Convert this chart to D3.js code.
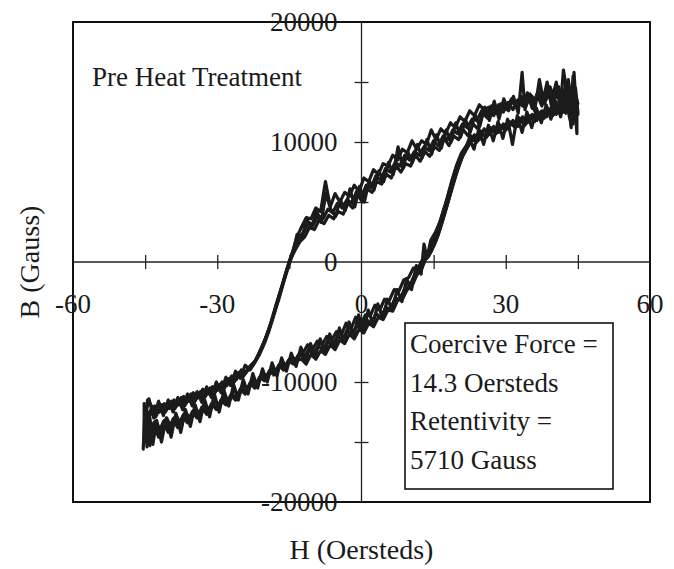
<!DOCTYPE html>
<html>
<head>
<meta charset="utf-8">
<script src="https://cdn.jsdelivr.net/npm/d3@7"></script>
<style>
  body { margin: 0; background: #fff; }
</style>
</head>
<body>
<div id="chart"></div>
<script>
// H (Oersteds), B (Gauss); four overlapping cycles
var cycleA = [
  [45,13200],[44,14800],[43.5,12000],[43,14200],[42,13000],[41,14600],[40,13400],[39,14100],[38,13200],[37,13900],
  [36,13300],[35,13700],[34,12900],[33,13600],[32,13100],[31,13400],[30,12800],[29,13200],[28,12600],[27,13000],
  [26,12300],[25,12600],[24,11800],[23,11900],[22,11200],[21,11500],[20,10700],[19,11000],[18,10200],[17,10500],
  [16,9700],[15,10100],[14,9300],[13,9600],[12,8900],[11,9200],[10,8500],[9,8900],[8,8000],[7,8300],
  [6,7500],[5,7800],[4,6800],[3,7200],[2,6200],[1,6400],[0,5400],[-1,5900],[-2,4900],[-3,5200],
  [-4,4500],[-5,4900],[-6,4100],[-7,4400],[-8,3600],[-9,3900],[-10,3100],[-11,3300],[-12,2500],[-13,2000],
  [-14,1200],[-15,100],[-16,-1300],[-17,-2700],[-18,-4000],[-19,-5300],[-20,-6400],[-21,-7300],[-22,-8200],[-23,-8600],
  [-24,-9200],[-25,-9000],[-26,-9800],[-27,-9500],[-28,-10300],[-29,-10000],[-30,-10700],[-31,-10400],[-32,-11000],[-33,-10600],
  [-34,-11300],[-35,-10900],[-36,-11600],[-37,-11200],[-38,-11900],[-39,-11500],[-40,-12200],[-41,-11800],[-42,-12500],[-43,-12000],
  [-44,-12800],[-45,-12200],
  [-45,-14500],[-44.5,-12500],[-44,-14200],[-43,-13300],[-42,-14000],[-41,-13200],[-40,-13800],[-39,-13000],[-38,-13500],[-37,-12700],
  [-36,-13200],[-35,-12400],[-34,-12900],[-33,-12100],[-32,-12500],[-31,-11800],[-30,-12200],[-29,-11400],[-28,-11800],[-27,-11000],
  [-26,-11300],[-25,-10500],[-24,-10800],[-23,-10000],[-22,-10300],[-21,-9500],[-20,-9800],[-19,-9000],[-18,-9300],[-17,-8500],
  [-16,-8800],[-15,-8100],[-14,-8400],[-13,-7700],[-12,-8000],[-11,-7300],[-10,-7700],[-9,-7000],[-8,-7300],[-7,-6600],
  [-6,-6900],[-5,-6200],[-4,-6500],[-3,-5700],[-2,-6000],[-1,-5300],[0,-5600],[1,-4800],[2,-5100],[3,-4300],
  [4,-4600],[5,-3800],[6,-3900],[7,-3000],[8,-3100],[9,-2200],[10,-2000],[11,-1100],[12,-700],[13,100],
  [14,500],[15,1300],[16,2300],[17,3600],[18,5000],[19,6400],[20,7700],[21,8800],[22,9500],[23,10200],
  [24,10000],[25,10700],[26,10400],[27,11000],[28,10700],[29,11300],[30,11000],[31,11600],[32,11200],[33,11900],
  [34,11400],[35,12100],[36,11700],[37,12400],[38,12000],[39,12700],[40,12300],[41,13000],[42,12500],[43,13400],
  [44,12800],[45,13200]
];

var cycleB = [
  [44.5,13500],[44,15500],[43.5,12500],[42.5,14800],[41.5,12900],[40.5,15000],[39.5,13300],[38.5,14500],[37.5,13000],[36.5,14000],
  [35.5,12800],[34.5,14100],[33.5,13000],[32.5,13500],[31.5,12700],[30.5,13300],[29.5,12500],[28.5,13100],[27.5,12200],[26.5,12900],
  [25.5,12700],[24.5,13100],[23.5,12200],[22.5,12600],[21.5,11700],[20.5,12100],[19.5,11200],[18.5,11600],[17.5,10700],[16.5,11100],
  [15.5,10200],[14.5,11000],[13.5,9800],[12.5,10100],[11.5,9400],[10.5,10100],[9.5,9100],[8.5,9400],[7.5,8500],[6.5,8900],
  [5.5,8000],[4.5,8200],[3.5,7300],[2.5,7700],[1.5,6700],[0.5,7000],[-0.5,5900],[-1.5,6400],[-2.5,5500],[-3.5,5800],
  [-4.5,5000],[-5.5,5700],[-6.5,4600],[-7.5,6700],[-8.5,4200],[-9.5,4500],[-10.5,3600],[-11.5,3700],[-12.5,2900],[-13.5,2000],
  [-14.5,600],[-15.5,-600],[-16.5,-2000],[-17.5,-3300],[-18.5,-4700],[-19.5,-5900],[-20.5,-6900],[-21.5,-7800],[-22.5,-8500],[-23.5,-8800],
  [-24.5,-9500],[-25.5,-9200],[-26.5,-10000],[-27.5,-9700],[-28.5,-10500],[-29.5,-10200],[-30.5,-10900],[-31.5,-10500],[-32.5,-11200],[-33.5,-10800],
  [-34.5,-11500],[-35.5,-11000],[-36.5,-11800],[-37.5,-11300],[-38.5,-12000],[-39.5,-11600],[-40.5,-12300],[-41.5,-11900],[-42.5,-12600],[-43.5,-12100],
  [-44.5,-11500],[-45,-13500],
  [-45,-15000],[-44.5,-13000],[-43.5,-14800],[-42.5,-13500],[-41.5,-14300],[-40.5,-13000],[-39.5,-13900],[-38.5,-12800],[-37.5,-13600],[-36.5,-12600],
  [-35.5,-13100],[-34.5,-12200],[-33.5,-12800],[-32.5,-11900],[-31.5,-12400],[-30.5,-11600],[-29.5,-12000],[-28.5,-11200],[-27.5,-11600],[-26.5,-10700],
  [-25.5,-11100],[-24.5,-10300],[-23.5,-10600],[-22.5,-9800],[-21.5,-10100],[-20.5,-9300],[-19.5,-9600],[-18.5,-8800],[-17.5,-9100],[-16.5,-8300],
  [-15.5,-8700],[-14.5,-7900],[-13.5,-8200],[-12.5,-8100],[-11.5,-8500],[-10.5,-7700],[-9.5,-8100],[-8.5,-7400],[-7.5,-7700],[-6.5,-6900],
  [-5.5,-7300],[-4.5,-6500],[-3.5,-6800],[-2.5,-6000],[-1.5,-6400],[-0.5,-5600],[0.5,-5900],[1.5,-5100],[2.5,-5400],[3.5,-4600],
  [4.5,-4800],[5.5,-4000],[6.5,-4100],[7.5,-3200],[8.5,-3100],[9.5,-2300],[10.5,-2000],[11.5,-1100],[12.5,-600],[13.5,400],
  [14.5,900],[15.5,1800],[16.5,3000],[17.5,4300],[18.5,5700],[19.5,7100],[20.5,8300],[21.5,9300],[22.5,9900],[23.5,10600],
  [24.5,10200],[25.5,11100],[26.5,10600],[27.5,11300],[28.5,10800],[29.5,11500],[30.5,11100],[31.5,11800],[32.5,11300],[33.5,12100],
  [34.5,11600],[35.5,12300],[36.5,11800],[37.5,12600],[38.5,12100],[39.5,12900],[40.5,12300],[41.5,13100],[42.5,12400],[43.5,13600],
  [44,11500],[44.5,13300]
];

var cycleC = [
  [45,12500],[44.5,14500],[43.8,13000],[43,15200],[42.2,13200],[41.2,14300],[40.2,13600],[39.2,14600],[38.2,13400],[37.2,14200],
  [36.2,13500],[35.2,13900],[34.2,13200],[33.2,13800],[32.2,12900],[31.2,13600],[30.2,12700],[29.2,13000],[28.2,12400],[27.2,12800],
  [26.2,12000],[25.2,12400],[24.2,11100],[23.2,11500],[22.2,10500],[21.2,11000],[20.2,10200],[19.2,10500],[18.2,9700],[17.2,10300],
  [16.2,9300],[15.2,9600],[14.2,8800],[13.2,9200],[12.2,8400],[11.2,8900],[10.2,8000],[9.2,8200],[8.2,7500],[7.2,8000],
  [6.2,7000],[5.2,7300],[4.2,6500],[3.2,6700],[2.2,5800],[1.2,6100],[0.2,5000],[-0.8,5600],[-1.8,4500],[-2.8,4900],
  [-3.8,4000],[-4.8,4200],[-5.8,3600],[-6.8,3900],[-7.8,3200],[-8.8,3500],[-9.8,2700],[-10.8,2900],[-11.8,2100],[-12.8,1700],
  [-13.8,1000],[-14.8,200],[-15.8,-1000],[-16.8,-2300],[-17.8,-3600],[-18.8,-5000],[-19.8,-6200],[-20.8,-7200],[-21.8,-8000],[-22.8,-8700],
  [-23.8,-9100],[-24.8,-9600],[-25.8,-9400],[-26.8,-10200],[-27.8,-9900],[-28.8,-10600],[-29.8,-10300],[-30.8,-11100],[-31.8,-10700],[-32.8,-11400],
  [-33.8,-11000],[-34.8,-11700],[-35.8,-11200],[-36.8,-12000],[-37.8,-11500],[-38.8,-12200],[-39.8,-11700],[-40.8,-12500],[-41.8,-12000],[-42.8,-12900],
  [-43.8,-12300],[-44.8,-13200],[-45.2,-11800],
  [-45.2,-14800],[-44.6,-12800],[-44,-15300],[-43.2,-13400],[-42.2,-14600],[-41.2,-13300],[-40.2,-14200],[-39.2,-13100],[-38.2,-13800],[-37.2,-12900],
  [-36.2,-13400],[-35.2,-12500],[-34.2,-13000],[-33.2,-12100],[-32.2,-12700],[-31.2,-11800],[-30.2,-12300],[-29.2,-11500],[-28.2,-11900],[-27.2,-11100],
  [-26.2,-11500],[-25.2,-10600],[-24.2,-11000],[-23.2,-10100],[-22.2,-10500],[-21.2,-9600],[-20.2,-9900],[-19.2,-9100],[-18.2,-9400],[-17.2,-8600],
  [-16.2,-9000],[-15.2,-8200],[-14.2,-8500],[-13.2,-7800],[-12.2,-7600],[-11.2,-6900],[-10.2,-7300],[-9.2,-6600],[-8.2,-6900],[-7.2,-6200],
  [-6.2,-6500],[-5.2,-5800],[-4.2,-6100],[-3.2,-5100],[-2.2,-5600],[-1.2,-4600],[-0.2,-5300],[0.8,-4400],[1.8,-4500],[2.8,-3600],
  [3.8,-4000],[4.8,-3100],[5.8,-3200],[6.8,-2300],[7.8,-2400],[8.8,-1500],[9.8,-1300],[10.8,-500],[11.8,-500],[12.8,300],
  [13.8,700],[14.8,1600],[15.8,2700],[16.8,4000],[17.8,5300],[18.8,6800],[19.8,8100],[20.8,9100],[21.8,9700],[22.8,10500],
  [23.8,10100],[24.8,10900],[25.8,10500],[26.8,11200],[27.8,10900],[28.8,11400],[29.8,11000],[30.8,11700],[31.8,11300],[32.8,12000],
  [33.8,11500],[34.8,12200],[35.8,11900],[36.8,12500],[37.8,12000],[38.8,12800],[39.8,12200],[40.8,13000],[41.8,12600],[42.8,13400],
  [43.8,12700],[44.6,13500],[45,12300]
];

var cycleD = [
  [44.8,12000],[44.2,15800],[43.6,11200],[42.8,14000],[42,16000],[41.4,13000],[40.4,14500],[39.6,12800],[38.6,15000],[37.8,13500],
  [37,15200],[36,12600],[35,14000],[34,12700],[33.4,15800],[32.6,12400],[31.6,13800],[30.6,12600],[29.6,13600],[28.6,11900],
  [27.6,13400],[26.6,11800],[25.6,12900],[24.6,11300],[23.6,12300],[22.6,10800],[21.6,11900],[20.6,10400],[19.6,11600],[18.6,10000],
  [17.6,11000],[16.6,9500],[15.6,10600],[14.6,9000],[13.6,10200],[12.6,8700],[11.6,9800],[10.6,8300],[9.6,9200],[8.6,7800],
  [7.6,9600],[6.6,7300],[5.6,8300],[4.6,6700],[3.6,7600],[2.6,6000],[1.6,6800],[0.6,5000],[-0.4,6300],[-1.4,4600],
  [-2.4,6100],[-3.4,4300],[-4.4,5200],[-5.4,3800],[-6.4,4400],[-7.4,5700],[-8.4,3300],[-9.4,4300],[-10.4,2800],[-11.4,3600],
  [-12.4,2000],[-13.4,2300],[-14.2,800],[-15.2,-400],[-16.2,-1700],[-17.2,-3100],[-18.2,-4400],[-19.2,-5700],[-20.2,-6800],[-21.2,-7700],
  [-22.2,-8400],[-23.2,-9000],[-24.2,-8600],[-25.2,-9700],[-26.2,-9100],[-27.2,-10300],[-28.2,-9600],[-29.2,-10900],[-30.2,-10000],[-31.2,-11300],
  [-32.2,-10400],[-33.2,-11700],[-34.2,-10800],[-35.2,-12000],[-36.2,-11000],[-37.2,-12300],[-38.2,-11300],[-39.2,-12500],[-40.2,-11500],[-41.2,-12800],
  [-42.2,-11600],[-43.2,-13000],[-44.2,-11400],[-45,-12800],
  [-45.4,-15600],[-45,-12000],[-44.6,-15400],[-44,-13000],[-43.4,-15200],[-42.6,-13200],[-41.6,-15000],[-40.6,-13000],[-39.6,-14600],[-38.6,-12600],
  [-37.6,-14200],[-36.6,-12300],[-35.6,-13700],[-34.6,-11900],[-33.6,-13300],[-32.6,-11500],[-31.6,-12900],[-30.6,-11000],[-29.6,-12500],[-28.6,-10700],
  [-27.6,-12000],[-26.6,-10200],[-25.6,-11500],[-24.6,-9800],[-23.6,-11000],[-22.6,-9300],[-21.6,-10500],[-20.6,-8900],[-19.6,-10000],[-18.6,-8400],
  [-17.6,-9500],[-16.6,-8000],[-15.6,-9100],[-14.6,-7600],[-13.6,-8700],[-12.6,-7100],[-11.6,-8300],[-10.6,-6800],[-9.6,-7900],[-8.6,-6400],
  [-7.6,-7500],[-6.6,-6000],[-5.6,-7200],[-4.6,-5500],[-3.6,-6700],[-2.6,-5000],[-1.6,-6200],[-0.6,-4400],[0.4,-5900],[1.4,-4000],
  [2.4,-5200],[3.4,-3500],[4.4,-4700],[5.4,-3100],[6.4,-4000],[7.4,-2300],[8.4,-3300],[9.4,-1400],[10.4,-2300],[11.4,-300],
  [12.4,-1000],[13,1500],[13.6,300],[14.4,1800],[15.4,2500],[16.4,3400],[17.4,4700],[18.4,6100],[19.4,7500],[20.4,8600],
  [21.4,9100],[22.4,10300],[23.4,9400],[24.4,11100],[25.4,9800],[26.4,11400],[27.4,10100],[28.4,11700],[29.4,10300],[30.4,11900],
  [31.4,9800],[32.4,12200],[33.4,10800],[34.4,12500],[35.4,11200],[36.4,12800],[37.4,11600],[38.4,13100],[39.4,11900],[40.4,13400],
  [41.4,12100],[42.4,13700],[43.4,11800],[44.2,14000],[44.8,10700]
];

var cycles = [cycleA, cycleB, cycleC, cycleD];

var xTicks = [-45, -30, -15, 15, 30, 45];
var xLabels = [-60, -30, 0, 30, 60];
var yTicks = [-15000, -10000, -5000, 5000, 10000, 15000];
var yLabels = [20000, 10000, 0, -10000, -20000];
var noteLines = ["Coercive Force =", "14.3 Oersteds", "Retentivity =", "5710 Gauss"];

var serif = "'Liberation Serif', 'Times New Roman', Times, serif";
var w = 674, h = 569;
var svg = d3.select("#chart").append("svg")
    .attr("width", w)
    .attr("height", h)
    .attr("font-family", serif);

var x = d3.scaleLinear().domain([-60, 60]).range([73, 650]);
var y = d3.scaleLinear().domain([-20000, 20000]).range([502, 22]);

// frame
svg.append("rect")
    .attr("x", x(-60)).attr("y", y(20000))
    .attr("width", x(60) - x(-60)).attr("height", y(-20000) - y(20000))
    .attr("fill", "none").attr("stroke", "#111").attr("stroke-width", 2);

// axes through the origin, ticks cross the line
var xAxis = d3.axisBottom(x).tickValues(xTicks).tickSize(14).tickFormat("");
svg.append("g")
    .attr("transform", "translate(0," + (y(0) - 7) + ")")
    .call(xAxis)
    .call(g => g.select(".domain").remove());
svg.append("line")
    .attr("x1", x(-60)).attr("x2", x(60))
    .attr("y1", y(0)).attr("y2", y(0))
    .attr("stroke", "#222").attr("stroke-width", 1.3);

var yAxis = d3.axisRight(y).tickValues(yTicks).tickSize(14).tickFormat("");
svg.append("g")
    .attr("transform", "translate(" + (x(0) - 7) + ",0)")
    .call(yAxis)
    .call(g => g.select(".domain").remove());
svg.append("line")
    .attr("x1", x(0)).attr("x2", x(0))
    .attr("y1", y(20000)).attr("y2", y(-20000))
    .attr("stroke", "#222").attr("stroke-width", 1.3);

svg.selectAll(".tick line").attr("stroke", "#222").attr("stroke-width", 1.3);

// tick labels
svg.selectAll(".xlab")
    .data(xLabels)
    .enter().append("text")
    .attr("class", "xlab")
    .attr("x", d => x(d))
    .attr("y", 313)
    .attr("text-anchor", "middle")
    .attr("font-family", serif)
    .attr("font-size", 27)
    .attr("fill", "#1a1a1a")
    .text(d => d);

svg.selectAll(".ylab")
    .data(yLabels)
    .enter().append("text")
    .attr("class", "ylab")
    .attr("x", x(0) - 24)
    .attr("y", d => y(d) + 9)
    .attr("text-anchor", "end")
    .attr("font-family", serif)
    .attr("font-size", 27)
    .attr("fill", "#1a1a1a")
    .text(d => d);

// loops
var line = d3.line()
    .x(d => x(d[0]))
    .y(d => y(d[1]));

svg.selectAll(".loop")
    .data(cycles)
    .enter().append("path")
    .attr("class", "loop")
    .attr("d", d => line(d) + "Z")
    .attr("fill", "none")
    .attr("stroke", "#1b1b1b")
    .attr("stroke-width", 3.2)
    .attr("stroke-linejoin", "round");

// annotations
svg.append("text")
    .attr("x", 92).attr("y", 86)
    .attr("font-family", serif)
    .attr("font-size", 27)
    .attr("fill", "#1a1a1a")
    .text("Pre Heat Treatment");

svg.append("rect")
    .attr("x", 405).attr("y", 323)
    .attr("width", 208).attr("height", 166)
    .attr("fill", "#fff").attr("stroke", "#111").attr("stroke-width", 1.6);

svg.selectAll(".note")
    .data(noteLines)
    .enter().append("text")
    .attr("class", "note")
    .attr("x", 410)
    .attr("y", (d, i) => 353 + i * 38.7)
    .attr("font-family", serif)
    .attr("font-size", 27)
    .attr("fill", "#1a1a1a")
    .text(d => d);

// axis titles
svg.append("text")
    .attr("x", x(0)).attr("y", 559)
    .attr("text-anchor", "middle")
    .attr("font-family", serif)
    .attr("font-size", 28)
    .attr("fill", "#1a1a1a")
    .text("H (Oersteds)");

svg.append("text")
    .attr("transform", "translate(39," + y(0) + ") rotate(-90)")
    .attr("text-anchor", "middle")
    .attr("font-family", serif)
    .attr("font-size", 28)
    .attr("fill", "#1a1a1a")
    .text("B (Gauss)");
</script>
</body>
</html>
